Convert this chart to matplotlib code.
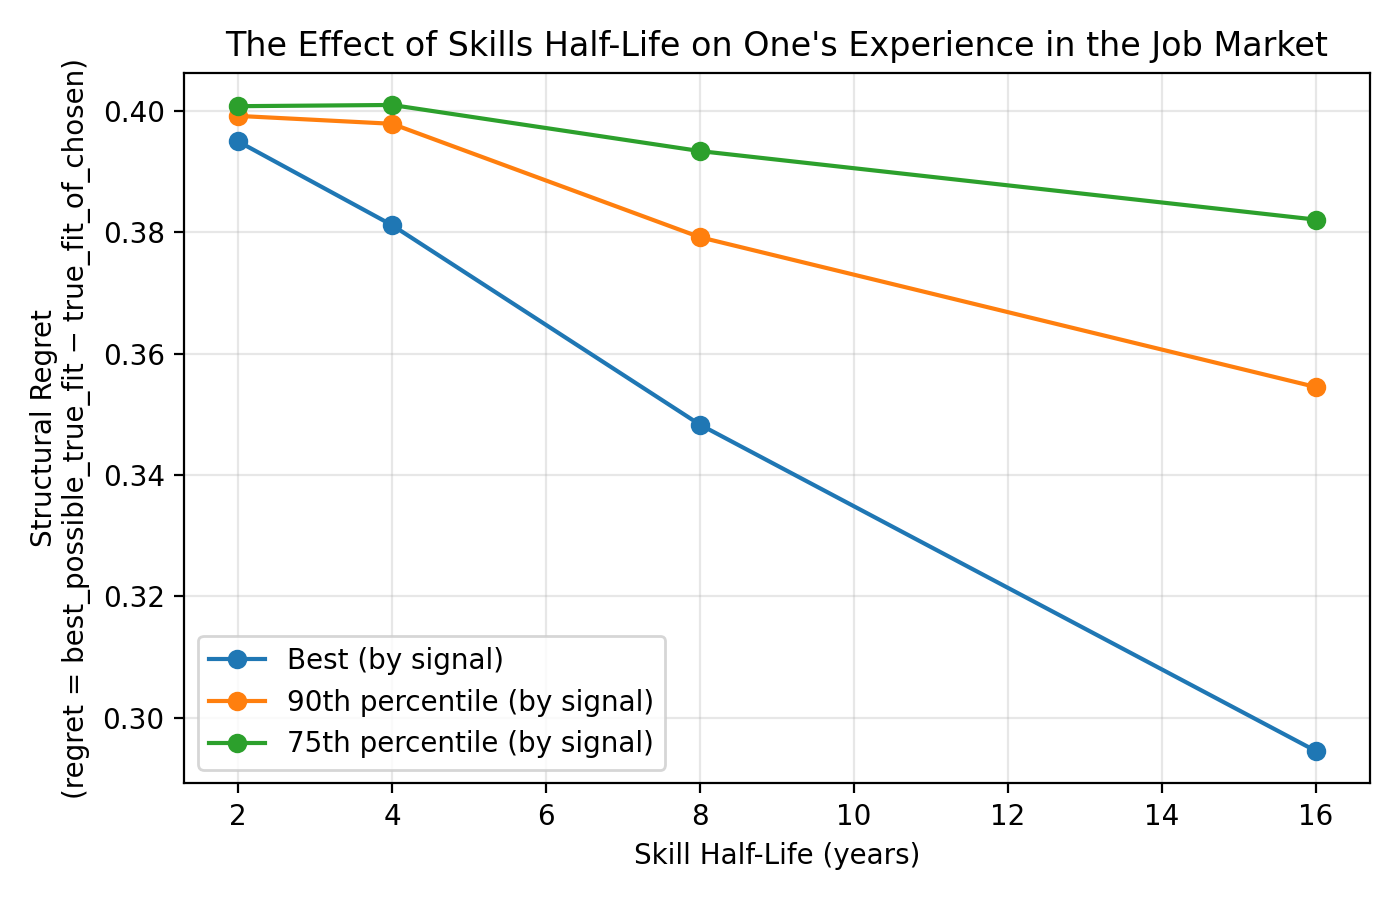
import matplotlib
matplotlib.use("Agg")
import matplotlib.pyplot as plt

half_life = [2, 4, 8, 16]
best = [0.3950, 0.3812, 0.3483, 0.2945]
p90 = [0.3992, 0.3979, 0.3792, 0.3545]
p75 = [0.4008, 0.4010, 0.3934, 0.3821]
labels = ["Best (by signal)", "90th percentile (by signal)", "75th percentile (by signal)"]

fig, ax = plt.subplots(figsize=(7, 4.5), dpi=200)
for vals, lab in zip([best, p90, p75], labels):
    ax.plot(half_life, vals, marker="o", label=lab)
ax.set_title("The Effect of Skills Half-Life on One's Experience in the Job Market")
ax.set_xlabel("Skill Half-Life (years)")
ax.set_ylabel("Structural Regret\n(regret = best_possible_true_fit \u2212 true_fit_of_chosen)")
ax.grid(True, alpha=0.3)
ax.legend(loc="lower left")
fig.tight_layout()
fig.savefig("out.png")
